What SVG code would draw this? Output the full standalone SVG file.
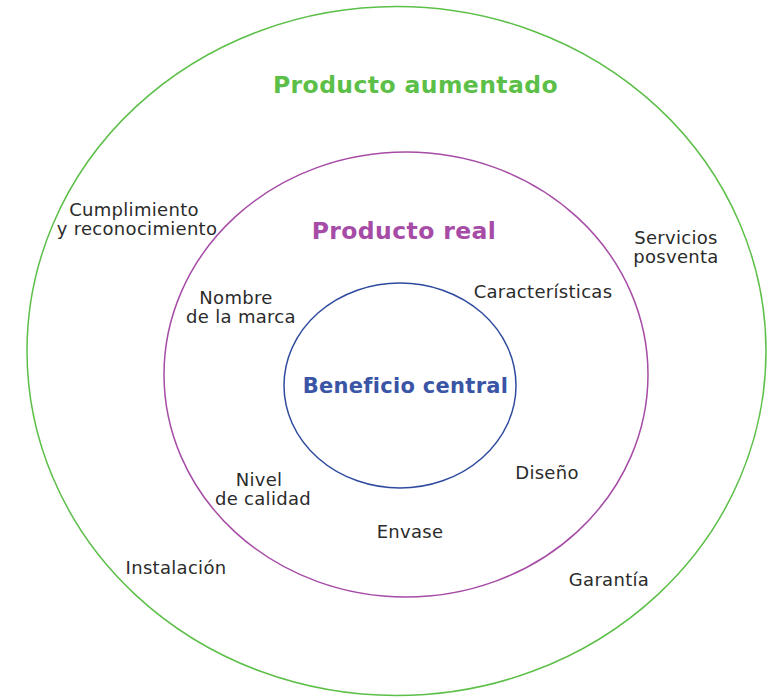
<svg xmlns="http://www.w3.org/2000/svg" width="772" height="698" viewBox="0 0 772 698">
<style>
.t{font-family:"DejaVu Sans","Liberation Sans",sans-serif;font-size:18px;letter-spacing:0.3px;fill:#2b2b2b;text-anchor:middle}
.h{font-family:"DejaVu Sans","Liberation Sans",sans-serif;font-weight:bold;text-anchor:middle}
</style>
<rect width="772" height="698" fill="#fff"/>
<g id="aumentado">
<ellipse cx="396.5" cy="351" rx="369.5" ry="344.5" fill="none" stroke="#5cbf48" stroke-width="1.5"/>
<text class="h" x="415.5" y="93" font-size="23.5" letter-spacing="0.4" fill="#5cbf48">Producto aumentado</text>
</g>
<g id="real">
<ellipse cx="406" cy="374.5" rx="242" ry="222.5" fill="none" stroke="#a64ca6" stroke-width="1.5"/>
<text class="h" x="404" y="238.5" font-size="23.5" letter-spacing="0.4" fill="#a64ca6">Producto real</text>
</g>
<g id="central">
<ellipse cx="400" cy="385.5" rx="116" ry="102.5" fill="none" stroke="#2e4a9e" stroke-width="1.5"/>
<text class="h" x="405.5" y="393" font-size="21" letter-spacing="0.3" fill="#3a55a5">Beneficio central</text>
</g>
<g id="labels">
<text class="t" x="134" y="216">Cumplimiento</text>
<text class="t" x="137" y="235">y reconocimiento</text>
<text class="t" x="676" y="244">Servicios</text>
<text class="t" x="676" y="263">posventa</text>
<text class="t" x="236" y="303.5">Nombre</text>
<text class="t" x="241" y="322.5">de la marca</text>
<text class="t" x="543" y="298">Características</text>
<text class="t" x="259" y="486">Nivel</text>
<text class="t" x="263" y="505">de calidad</text>
<text class="t" x="547" y="479">Diseño</text>
<text class="t" x="410" y="538">Envase</text>
<text class="t" x="176" y="574">Instalación</text>
<text class="t" x="609" y="586">Garantía</text>
</g>
</svg>
